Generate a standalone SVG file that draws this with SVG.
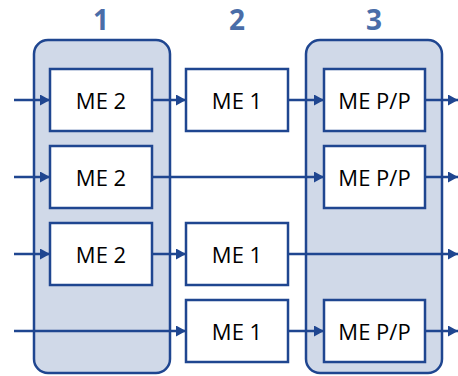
<svg xmlns="http://www.w3.org/2000/svg" width="458" height="376" viewBox="0 0 458 376">
<defs>
<marker id="ah" markerWidth="10" markerHeight="11" refX="10" refY="5.5" orient="auto" markerUnits="userSpaceOnUse">
<path d="M0,0 L10,5.5 L0,11 Z" fill="#1f4690"/>
</marker>
<style>
.grp{fill:#d0d9e8;stroke:#1f4690;stroke-width:2.5}
.box{fill:#fff;stroke:#1f4690;stroke-width:2.5}
.lbl{font-family:"Open Sans","Noto Sans",sans-serif;font-size:22px;fill:#000;text-anchor:middle;dominant-baseline:central}
.num{font-family:"Open Sans","Noto Sans",sans-serif;font-size:28px;font-weight:bold;fill:#4a6da8;text-anchor:middle}
.ln{stroke:#1f4690;stroke-width:2.5;fill:none;marker-end:url(#ah)}
</style>
</defs>
<rect width="458" height="376" fill="#fff"/>
<g id="stage1">
<rect class="grp" x="34" y="40" width="136" height="333" rx="14"/>
<text class="num" x="101" y="30">1</text>
</g>
<g id="stage2"><text class="num" x="237" y="30">2</text></g>
<g id="stage3">
<rect class="grp" x="306" y="40" width="136" height="333" rx="14"/>
<text class="num" x="374" y="30">3</text>
</g>
<g id="connectors">
<path class="ln" d="M14,100 H50"/>
<path class="ln" d="M152,100 H186"/>
<path class="ln" d="M288,100 H324"/>
<path class="ln" d="M425,100 H458"/>
<path class="ln" d="M14,177 H50"/>
<path class="ln" d="M152,177 H324"/>
<path class="ln" d="M425,177 H458"/>
<path class="ln" d="M14,254 H50"/>
<path class="ln" d="M152,254 H186"/>
<path class="ln" d="M288,254 H458"/>
<path class="ln" d="M14,331 H186"/>
<path class="ln" d="M288,331 H324"/>
<path class="ln" d="M425,331 H458"/>
</g>
<g id="n1a"><rect class="box" x="50" y="69" width="102" height="62"/><text class="lbl" x="101" y="100">ME 2</text></g>
<g id="n1b"><rect class="box" x="50" y="146" width="102" height="62"/><text class="lbl" x="101" y="177">ME 2</text></g>
<g id="n1c"><rect class="box" x="50" y="223" width="102" height="62"/><text class="lbl" x="101" y="254">ME 2</text></g>
<g id="n2a"><rect class="box" x="186" y="69" width="102" height="62"/><text class="lbl" x="237" y="100">ME 1</text></g>
<g id="n2c"><rect class="box" x="186" y="223" width="102" height="62"/><text class="lbl" x="237" y="254">ME 1</text></g>
<g id="n2d"><rect class="box" x="186" y="300" width="102" height="62"/><text class="lbl" x="237" y="331">ME 1</text></g>
<g id="n3a"><rect class="box" x="324" y="69" width="101" height="62"/><text class="lbl" x="374.5" y="100">ME P/P</text></g>
<g id="n3b"><rect class="box" x="324" y="146" width="101" height="62"/><text class="lbl" x="374.5" y="177">ME P/P</text></g>
<g id="n3d"><rect class="box" x="324" y="300" width="101" height="62"/><text class="lbl" x="374.5" y="331">ME P/P</text></g>
</svg>
